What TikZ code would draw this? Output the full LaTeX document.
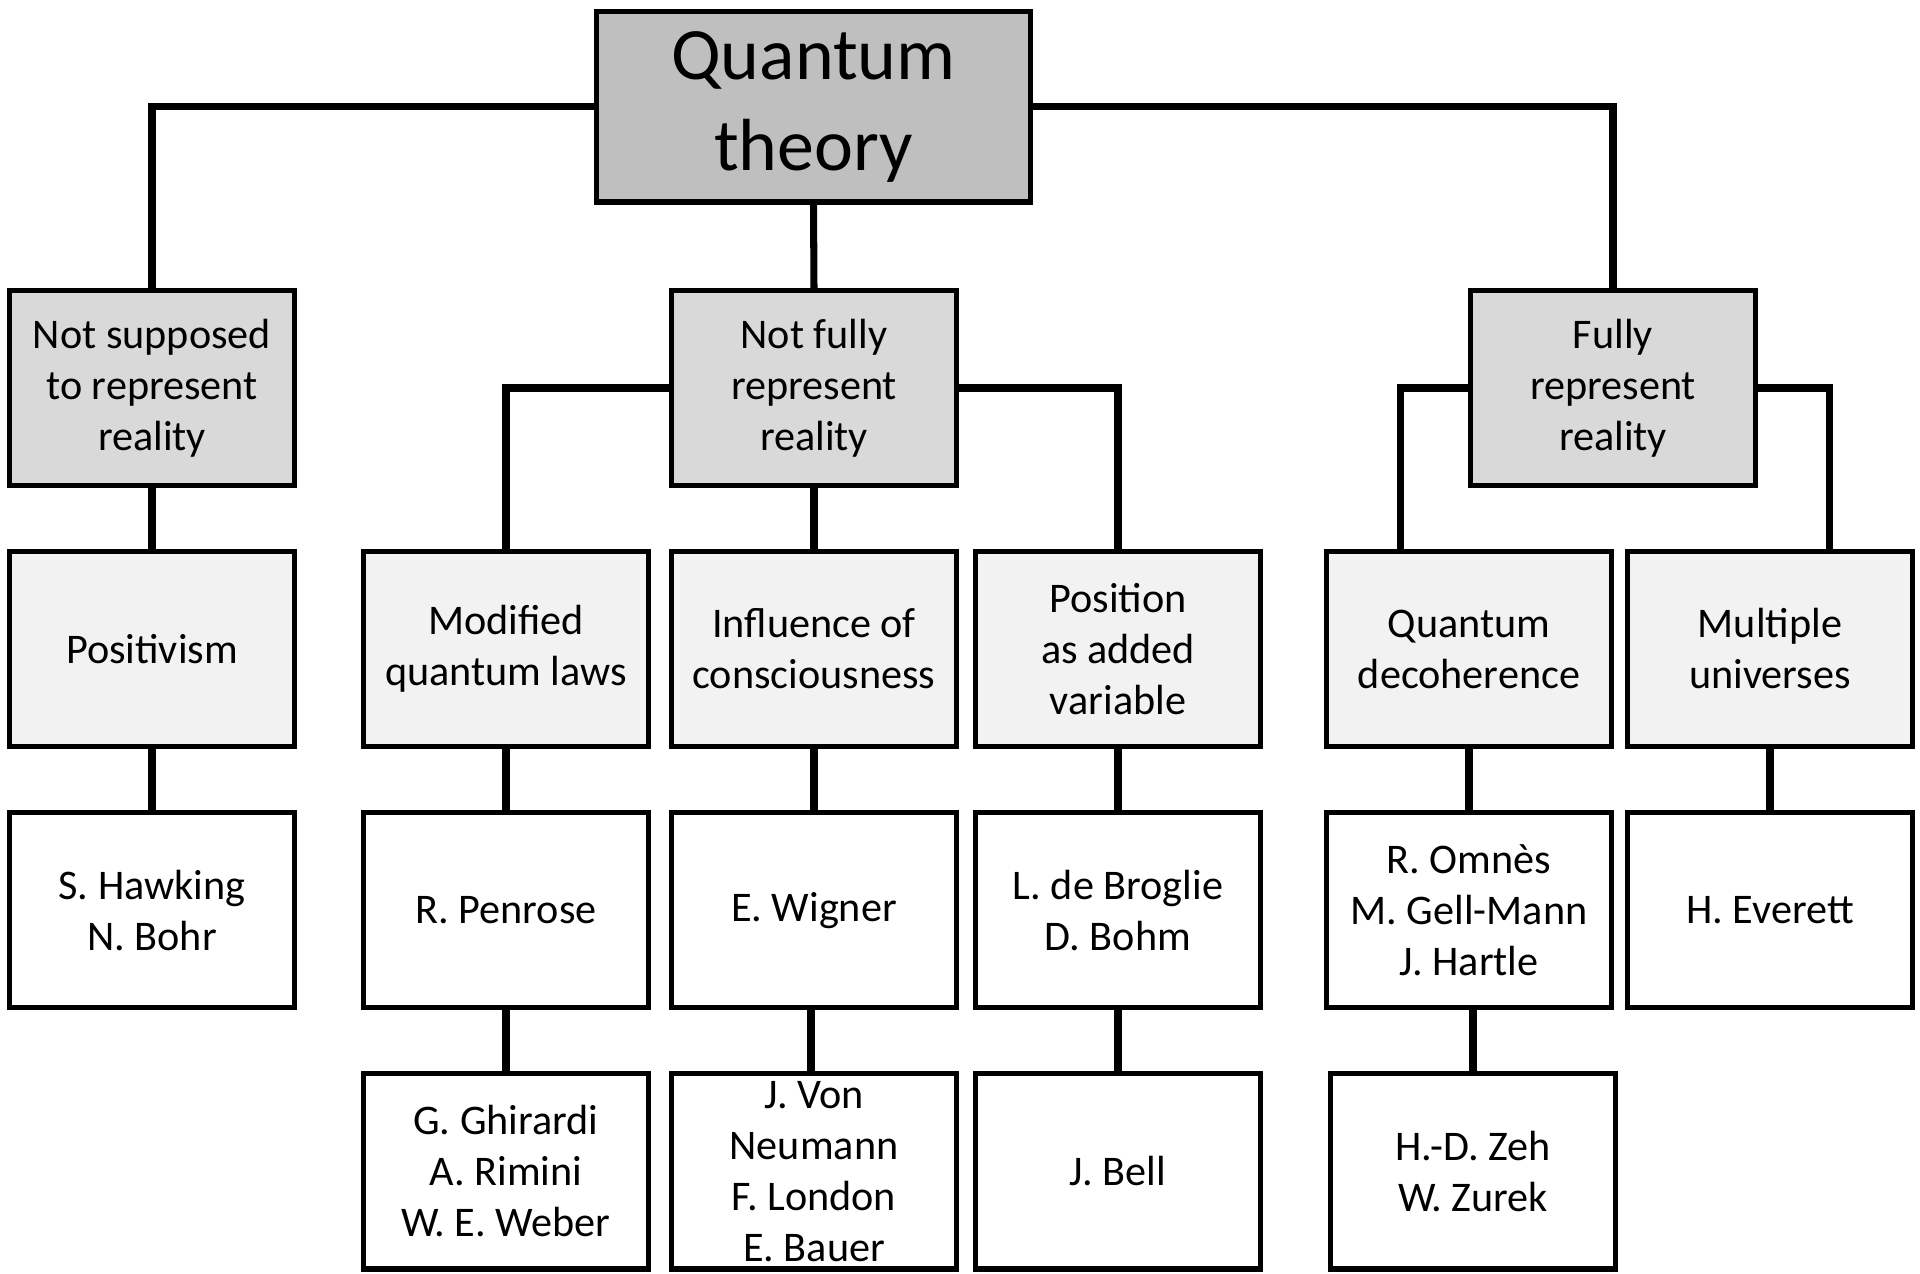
\documentclass[tikz,border=0pt]{standalone}
\usepackage{fontspec}
\setmainfont{Carlito}
\usepackage{tikz}
\usetikzlibrary{positioning}
\definecolor{gray75}{HTML}{BFBFBF}
\definecolor{gray85}{HTML}{D9D9D9}
\definecolor{gray95}{HTML}{F2F2F2}
\tikzset{
  basebox/.style={
    rectangle, draw=black, line width=1.45pt,
    minimum width=2.85cm, minimum height=1.95cm,
    font=\fontsize{12}{14.5}\selectfont, align=center,
    inner sep=2pt
  },
  rootbox/.style={
    basebox, fill=gray75,
    minimum width=4.33cm, minimum height=1.9cm,
    font=\fontsize{21}{25.6}\selectfont
  },
  viewbox/.style={basebox, fill=gray85},
  schoolbox/.style={basebox, fill=gray95},
  namebox/.style={basebox, fill=white},
  link/.style={line width=2pt, color=black},
}
\begin{document}
\begin{tikzpicture}[x=0.01cm, y=-0.01cm]
\useasboundingbox (0,0) rectangle (1920,1274);

% Root and the three views
\node[rootbox] (qt) at (813.5,107) {Quantum\\theory};
\node[viewbox] (nsr) at (152,388) {Not supposed\\to represent\\reality};
\node[viewbox] (nfr) at (814,388) {Not fully\\represent\\reality};
\node[viewbox] (fr) at (1613,388) {Fully\\represent\\reality};

% Schools
\node[schoolbox] (pos) at (152,649) {Positivism};
\node[schoolbox] (mql) at (506,649) {Modified\\quantum laws};
\node[schoolbox] (ioc) at (814,649) {Influence of\\consciousness};
\node[schoolbox] (pav) at (1118,649) {Position\\as added\\variable};
\node[schoolbox] (qd) at (1469,649) {Quantum\\decoherence};
\node[schoolbox] (mu) at (1770,649) {Multiple\\universes};

% Names
\node[namebox, below=0.61cm of pos] (hb) {S. Hawking\\N. Bohr};
\node[namebox, below=0.61cm of mql] (rp) {R. Penrose};
\node[namebox, below=0.61cm of ioc] (ew) {E. Wigner};
\node[namebox, below=0.61cm of pav] (bb) {L. de Broglie\\D. Bohm};
\node[namebox, below=0.61cm of qd] (ogh) {R. Omnès\\M. Gell-Mann\\J. Hartle};
\node[namebox, below=0.61cm of mu] (he) {H. Everett};

\node[namebox, below=0.61cm of rp] (grw) {G. Ghirardi\\A. Rimini\\W. E. Weber};
\node[namebox, below=0.61cm of ew] (nlb) {J. Von\\Neumann\\F. London\\E. Bauer};
\node[namebox, below=0.61cm of bb] (jb) {J. Bell};
\node[namebox, below=0.61cm of ogh, xshift=0.04cm] (zz) {H.-D. Zeh\\W. Zurek};

% Connectors
\draw[link] (qt.west) -| (nsr.north);
\draw[link] (qt.south) -- (nfr.north);
\draw[link] (qt.east) -| (fr.north);

\draw[link] (nsr.south) -- (pos.north);
\draw[link] (nfr.west) -| (mql.north);
\draw[link] (nfr.south) -- (ioc.north);
\draw[link] (nfr.east) -| (pav.north);
\draw[link] (fr.west) -| ([xshift=-0.68cm]qd.north);
\draw[link] (fr.east) -| ([xshift=0.59cm]mu.north);

\draw[link] (pos.south) -- (hb.north);
\draw[link] (mql.south) -- (rp.north);
\draw[link] (ioc.south) -- (ew.north);
\draw[link] (pav.south) -- (bb.north);
\draw[link] (qd.south) -- (ogh.north);
\draw[link] (mu.south) -- (he.north);

\draw[link] (rp.south) -- (grw.north);
\draw[link] ([xshift=-0.03cm]ew.south) -- ([xshift=-0.03cm]nlb.north);
\draw[link] (bb.south) -- (jb.north);
\draw[link] (zz.north |- ogh.south) -- (zz.north);

\end{tikzpicture}
\end{document}
